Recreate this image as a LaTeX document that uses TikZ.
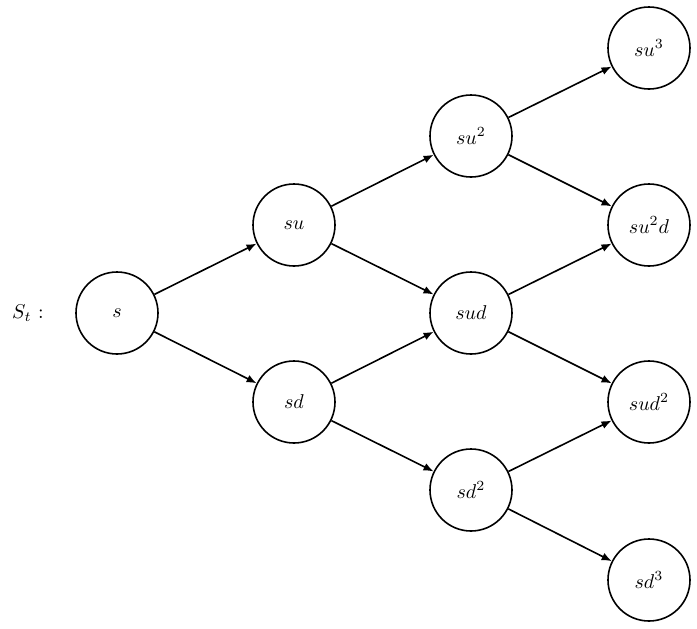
\documentclass[tikz,border=0pt]{standalone}
\usetikzlibrary{arrows.meta}
\begin{document}
\begin{tikzpicture}[x=0.5pt,y=-0.5pt,
  state/.style={circle,draw,line width=0.8pt,minimum size=41pt,inner sep=0pt},
  conn/.style={-{Latex[length=5pt,width=4pt]},line width=0.8pt}]
\useasboundingbox (0,0) rectangle (697,628);
\node (lab) at (28,313) {$S_t$ :};
\node[state] (s) at (117,313) {$s$};
\node[state] (su) at (294,225) {$su$};
\node[state] (sd) at (294,402) {$sd$};
\node[state] (suu) at (471,136) {$su^2$};
\node[state] (sud) at (471,313) {$sud$};
\node[state] (sdd) at (471,490) {$sd^2$};
\node[state] (suuu) at (649,48) {$su^3$};
\node[state] (suud) at (649,225) {$su^2d$};
\node[state] (sudd) at (649,402) {$sud^2$};
\node[state] (sddd) at (649,580) {$sd^3$};
\draw[conn] (s) -- (su);
\draw[conn] (s) -- (sd);
\draw[conn] (su) -- (suu);
\draw[conn] (su) -- (sud);
\draw[conn] (sd) -- (sud);
\draw[conn] (sd) -- (sdd);
\draw[conn] (suu) -- (suuu);
\draw[conn] (suu) -- (suud);
\draw[conn] (sud) -- (suud);
\draw[conn] (sud) -- (sudd);
\draw[conn] (sdd) -- (sudd);
\draw[conn] (sdd) -- (sddd);
\end{tikzpicture}
\end{document}
